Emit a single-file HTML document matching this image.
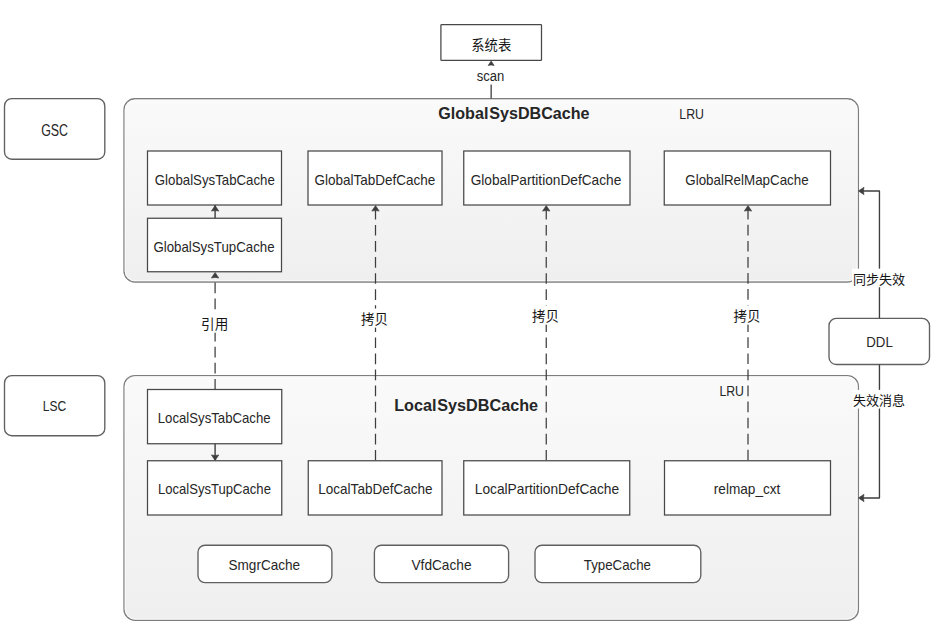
<!DOCTYPE html>
<html><head><meta charset="utf-8"><title>SysDBCache</title>
<style>
html,body{margin:0;padding:0;background:#fff;}
body{width:940px;height:640px;overflow:hidden;}
svg{display:block;}
svg text{font-family:"Liberation Sans","Noto Sans CJK SC",sans-serif;fill:#262626;}
</style></head><body>
<svg width="940" height="640" viewBox="0 0 940 640">
<rect width="940" height="640" fill="#fff"/>
<defs><linearGradient id="g" x1="0" y1="0" x2="0" y2="1"><stop offset="0" stop-color="#fafafa"/><stop offset="1" stop-color="#efefef"/></linearGradient></defs>
<rect x="124.0" y="98.75" width="734.4" height="183.25" rx="11" ry="11" fill="url(#g)" stroke="#7e7e7e" stroke-width="1.3"/>
<rect x="124.0" y="375.6" width="734.4" height="244.69999999999993" rx="11" ry="11" fill="url(#g)" stroke="#7e7e7e" stroke-width="1.3"/>
<rect x="125.3" y="100.05" width="731.8" height="180.65" rx="9.8" ry="9.8" fill="none" stroke="#fbfbfb" stroke-opacity="0.75" stroke-width="1.2"/>
<rect x="125.3" y="376.90000000000003" width="731.8" height="242.09999999999994" rx="9.8" ry="9.8" fill="none" stroke="#fbfbfb" stroke-opacity="0.75" stroke-width="1.2"/>
<rect x="4.5" y="98.6" width="100.3" height="60.599999999999994" rx="7.3" ry="7.3" fill="#fff" stroke="#606060" stroke-width="1.35"/>
<rect x="4.5" y="375.6" width="100.3" height="60.099999999999966" rx="7.3" ry="7.3" fill="#fff" stroke="#606060" stroke-width="1.35"/>
<rect x="829" y="318.3" width="100.5" height="46.19999999999999" rx="7.3" ry="7.3" fill="#fff" stroke="#606060" stroke-width="1.35"/>
<text x="54.6" y="135.5" font-size="15.6" text-anchor="middle" textLength="26.9" lengthAdjust="spacingAndGlyphs">GSC</text>
<text x="54.5" y="410.6" font-size="15.4" text-anchor="middle" textLength="23.4" lengthAdjust="spacingAndGlyphs">LSC</text>
<text x="879.5" y="347" font-size="15.2" text-anchor="middle" textLength="26.5" lengthAdjust="spacingAndGlyphs">DDL</text>
<rect x="440.9" y="24.5" width="100.60000000000002" height="35.95" rx="0.8" ry="0.8" fill="#fff" stroke="#484848" stroke-width="1.25"/>
<text x="491.25" y="49.8" font-size="13.3" text-anchor="middle" fill="#151515" style="fill:#151515">系统表</text>
<path d="M491.15 60.9 L494.18399999999997 65.492 L491.15 65.0 L488.116 65.492 Z" fill="#3e3e3e" stroke="#3e3e3e" stroke-width="0.6" stroke-linejoin="miter"/>
<line x1="491.15" y1="84.6" x2="491.15" y2="98.5" stroke="#3e3e3e" stroke-width="1.3"/>
<text x="490.5" y="81.3" font-size="14" text-anchor="middle" textLength="27.6" lengthAdjust="spacingAndGlyphs">scan</text>
<text x="513.9" y="118.9" font-size="16" text-anchor="middle" textLength="151.2" lengthAdjust="spacingAndGlyphs" font-weight="700">Global<tspan dx="0.9">SysDBCache</tspan></text>
<text x="466.1" y="411.3" font-size="16" text-anchor="middle" textLength="143.9" lengthAdjust="spacingAndGlyphs" font-weight="700">Local<tspan dx="0.9">SysDBCache</tspan></text>
<text x="691.7" y="119.4" font-size="15.2" text-anchor="middle" textLength="24.7" lengthAdjust="spacingAndGlyphs">LRU</text>
<text x="731.7" y="396.0" font-size="15" text-anchor="middle" textLength="24.6" lengthAdjust="spacingAndGlyphs">LRU</text>
<line x1="215.1" y1="389.6" x2="215.1" y2="275.4" stroke="#3e3e3e" stroke-width="1.25" stroke-dasharray="10.7 5.37"/>
<path d="M215.1 272.4 L218.79999999999998 278.0 L215.1 277.4 L211.4 278.0 Z" fill="#3e3e3e" stroke="#3e3e3e" stroke-width="0.6" stroke-linejoin="miter"/>
<line x1="375.5" y1="460.6" x2="375.5" y2="208.5" stroke="#3e3e3e" stroke-width="1.25" stroke-dasharray="10.7 5.37"/>
<path d="M375.5 205.5 L379.2 211.1 L375.5 210.5 L371.8 211.1 Z" fill="#3e3e3e" stroke="#3e3e3e" stroke-width="0.6" stroke-linejoin="miter"/>
<line x1="546.25" y1="460.6" x2="546.25" y2="208.5" stroke="#3e3e3e" stroke-width="1.25" stroke-dasharray="10.7 5.37"/>
<path d="M546.25 205.5 L549.95 211.1 L546.25 210.5 L542.55 211.1 Z" fill="#3e3e3e" stroke="#3e3e3e" stroke-width="0.6" stroke-linejoin="miter"/>
<line x1="748.0" y1="460.5" x2="748.0" y2="208.5" stroke="#3e3e3e" stroke-width="1.25" stroke-dasharray="10.7 5.37"/>
<path d="M748.0 205.5 L751.7 211.1 L748.0 210.5 L744.3 211.1 Z" fill="#3e3e3e" stroke="#3e3e3e" stroke-width="0.6" stroke-linejoin="miter"/>
<rect x="147.5" y="151" width="134.0" height="54" rx="0" ry="0" fill="#fff" stroke="#484848" stroke-width="1.25"/>
<text x="214.8" y="184.9" font-size="15" text-anchor="middle" textLength="120" lengthAdjust="spacingAndGlyphs">GlobalSysTabCache</text>
<rect x="308" y="151" width="134" height="54" rx="0" ry="0" fill="#fff" stroke="#484848" stroke-width="1.25"/>
<text x="374.9" y="184.9" font-size="15" text-anchor="middle" textLength="121" lengthAdjust="spacingAndGlyphs">GlobalTabDefCache</text>
<rect x="463.75" y="151" width="166.25" height="54" rx="0" ry="0" fill="#fff" stroke="#484848" stroke-width="1.25"/>
<text x="545.975" y="184.9" font-size="15" text-anchor="middle" textLength="150.6" lengthAdjust="spacingAndGlyphs">GlobalPartitionDefCache</text>
<rect x="664.25" y="151" width="166.25" height="54" rx="0" ry="0" fill="#fff" stroke="#484848" stroke-width="1.25"/>
<text x="746.975" y="184.9" font-size="15" text-anchor="middle" textLength="123.4" lengthAdjust="spacingAndGlyphs">GlobalRelMapCache</text>
<rect x="147.5" y="218.25" width="134.0" height="53.5" rx="0" ry="0" fill="#fff" stroke="#484848" stroke-width="1.25"/>
<text x="214.0" y="251.9" font-size="15" text-anchor="middle" textLength="121.25" lengthAdjust="spacingAndGlyphs">GlobalSysTupCache</text>
<line x1="215.1" y1="205" x2="215.1" y2="218.25" stroke="#3e3e3e" stroke-width="1.4"/>
<path d="M215.1 205.5 L218.79999999999998 211.1 L215.1 210.5 L211.4 211.1 Z" fill="#3e3e3e" stroke="#3e3e3e" stroke-width="0.6" stroke-linejoin="miter"/>
<rect x="147.5" y="389.5" width="134.25" height="54.25" rx="0" ry="0" fill="#fff" stroke="#484848" stroke-width="1.25"/>
<text x="214.2" y="422.7" font-size="15" text-anchor="middle" textLength="112.8" lengthAdjust="spacingAndGlyphs">LocalSysTabCache</text>
<rect x="147.5" y="460.75" width="134.25" height="54.25" rx="0" ry="0" fill="#fff" stroke="#484848" stroke-width="1.25"/>
<text x="214.425" y="494.1" font-size="15" text-anchor="middle" textLength="113" lengthAdjust="spacingAndGlyphs">LocalSysTupCache</text>
<rect x="308.25" y="460.75" width="133.75" height="54.25" rx="0" ry="0" fill="#fff" stroke="#484848" stroke-width="1.25"/>
<text x="375.425" y="494.1" font-size="15" text-anchor="middle" textLength="114.2" lengthAdjust="spacingAndGlyphs">LocalTabDefCache</text>
<rect x="463.75" y="460.75" width="166.0" height="54.25" rx="0" ry="0" fill="#fff" stroke="#484848" stroke-width="1.25"/>
<text x="546.95" y="494.1" font-size="15" text-anchor="middle" textLength="144.4" lengthAdjust="spacingAndGlyphs">LocalPartitionDefCache</text>
<rect x="664.5" y="460.75" width="166.0" height="54.25" rx="0" ry="0" fill="#fff" stroke="#484848" stroke-width="1.25"/>
<text x="747.1" y="494.1" font-size="15" text-anchor="middle" textLength="66.6" lengthAdjust="spacingAndGlyphs">relmap_cxt</text>
<line x1="215.1" y1="443.75" x2="215.1" y2="460" stroke="#3e3e3e" stroke-width="1.4"/>
<path d="M215.1 460.5 L218.79999999999998 454.9 L215.1 455.5 L211.4 454.9 Z" fill="#3e3e3e" stroke="#3e3e3e" stroke-width="0.6" stroke-linejoin="miter"/>
<rect x="198" y="545.2" width="133.89999999999998" height="37.39999999999998" rx="7" ry="7" fill="#fff" stroke="#606060" stroke-width="1.35"/>
<text x="264.3" y="569.8" font-size="15" text-anchor="middle" textLength="71.6" lengthAdjust="spacingAndGlyphs">SmgrCache</text>
<rect x="374.4" y="545.2" width="134.20000000000005" height="37.39999999999998" rx="7" ry="7" fill="#fff" stroke="#606060" stroke-width="1.35"/>
<text x="441.5" y="569.8" font-size="15" text-anchor="middle" textLength="60" lengthAdjust="spacingAndGlyphs">VfdCache</text>
<rect x="535" y="545.2" width="165.79999999999995" height="37.39999999999998" rx="7" ry="7" fill="#fff" stroke="#606060" stroke-width="1.35"/>
<text x="617.4" y="569.8" font-size="15" text-anchor="middle" textLength="67.2" lengthAdjust="spacingAndGlyphs">TypeCache</text>
<path d="M879.45 318.3 V190.95 H861" fill="none" stroke="#3e3e3e" stroke-width="1.35" stroke-linejoin="round"/>
<path d="M858.4 190.95 L864.0 187.25 L863.4 190.95 L864.0 194.64999999999998 Z" fill="#3e3e3e" stroke="#3e3e3e" stroke-width="0.6" stroke-linejoin="miter"/>
<path d="M879.45 364.5 V497.95 H861" fill="none" stroke="#3e3e3e" stroke-width="1.35" stroke-linejoin="round"/>
<path d="M858.4 497.95 L864.0 494.25 L863.4 497.95 L864.0 501.65 Z" fill="#3e3e3e" stroke="#3e3e3e" stroke-width="0.6" stroke-linejoin="miter"/>
<rect x="200.10" y="313.50" width="29.20" height="19.20" fill="#fff"/>
<text x="214.7" y="329.07" font-size="13.6" text-anchor="middle" style="fill:#151515">引用</text>
<rect x="360.10" y="308.55" width="29.00" height="19.10" fill="#fff"/>
<text x="374.6" y="324.03" font-size="13.5" text-anchor="middle" style="fill:#151515">拷贝</text>
<rect x="531.10" y="305.55" width="29.00" height="19.10" fill="#fff"/>
<text x="545.6" y="321.03" font-size="13.5" text-anchor="middle" style="fill:#151515">拷贝</text>
<rect x="732.50" y="305.55" width="29.00" height="19.10" fill="#fff"/>
<text x="747" y="321.03" font-size="13.5" text-anchor="middle" style="fill:#151515">拷贝</text>
<rect x="852.00" y="268.65" width="54.00" height="18.60" fill="#fff"/>
<text x="879" y="283.69" font-size="13" text-anchor="middle" style="fill:#151515">同步失效</text>
<rect x="852.00" y="389.90" width="54.00" height="18.60" fill="#fff"/>
<text x="879" y="404.94" font-size="13" text-anchor="middle" style="fill:#151515">失效消息</text>
</svg>
</body></html>
